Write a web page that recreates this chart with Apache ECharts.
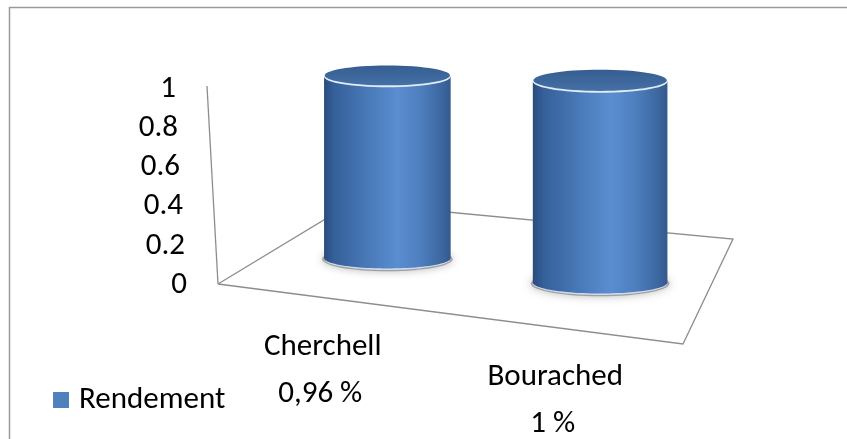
<!DOCTYPE html>
<html>
<head>
<meta charset="utf-8">
<style>
  html, body { margin: 0; padding: 0; background: #ffffff; overflow: hidden; }
  #chart { width: 847px; height: 439px; }
</style>
<script src="https://cdn.jsdelivr.net/npm/echarts@6/dist/echarts.min.js"></script>
</head>
<body>
<div id="chart"></div>
<script>
// ---- data ----
const categories = ['Cherchell', 'Bourached'];
const rendement = [0.96, 1];
const valueTicks = [0, 0.2, 0.4, 0.6, 0.8, 1];
const seriesName = 'Rendement';

// ---- layout / style ----
const FONT = 'Carlito, Calibri, Lato, "Open Sans", sans-serif';
const FONT_SIZE = 31;
const BLUE = '#4f81bd';
const LINE = '#8d8d8d';

// plot area of the value axis (front-left wall edge)
const GRID = { left: 218, top: 89, width: 465, height: 196 };

// floor quadrilateral in screen space
const FLOOR = {
  fl: [218, 284],
  fr: [683, 344],
  br: [733, 239],
  bl: [352, 203]
};
const WALL_TOP = [207, 86];
const DEPTH = 0.47;            // where the cylinders stand between front (0) and back (1)
const PERSP = [0.934, 0.122];  // size factor across the floor, left to right
const RADIUS = 0.2823;         // cylinder radius as a share of the category band
const TILT = 0.168;            // ellipse flattening
const CAT_LABEL_OFF = [-11.5, 48];
const VAL_LABEL_OFF = [-14, 95];

function lerp(a, b, t) { return [a[0] + (b[0] - a[0]) * t, a[1] + (b[1] - a[1]) * t]; }
function floorPoint(s, d) {
  const front = lerp(FLOOR.fl, FLOOR.fr, s);
  const back = lerp(FLOOR.bl, FLOOR.br, s);
  return lerp(front, back, d);
}
function ellipsePts(cx, cy, rx, ry, a0, a1, n) {
  const pts = [];
  for (let k = 0; k <= n; k++) {
    const a = a0 + (a1 - a0) * k / n;
    pts.push([cx + rx * Math.cos(a), cy + ry * Math.sin(a)]);
  }
  return pts;
}
function pctLabel(v) { return String(v).replace('.', ',') + ' %'; }

const bodyGradient = () => new echarts.graphic.LinearGradient(0, 0, 1, 0, [
  { offset: 0, color: '#2a4c7d' },
  { offset: 0.08, color: '#35609a' },
  { offset: 0.3, color: '#4675b3' },
  { offset: 0.58, color: '#5a8ed1' },
  { offset: 0.75, color: '#4f80c0' },
  { offset: 0.92, color: '#3d69a2' },
  { offset: 1, color: '#34598c' }
]);
const topGradient = () => new echarts.graphic.LinearGradient(0, 0, 0, 1, [
  { offset: 0, color: '#355d90' },
  { offset: 1, color: '#4571a7' }
]);

function renderCylinder(params, api) {
  const idx = api.value(0);
  const val = api.value(1);
  const p0 = api.coord([idx, 0]);
  const p1 = api.coord([idx, val]);
  const band = api.size([1, 0])[0];
  const cs = params.coordSys;
  const s = (p0[0] - cs.x) / cs.width;
  const f = PERSP[0] + PERSP[1] * s;

  const base = floorPoint(s, DEPTH);
  const h = (p0[1] - p1[1]) * f;
  const rx = band * RADIUS * f;
  const ry = rx * TILT;
  const cx = base[0], by = base[1], ty = base[1] - h;

  const front = floorPoint(s, 0);
  const children = [];

  // soft shadow under the base
  children.push({
    type: 'polygon',
    shape: { points: ellipsePts(cx, by + 1, rx + 2, ry + 1.5, 0, Math.PI * 2, 60) },
    style: { fill: 'rgba(90,90,90,0.45)', shadowBlur: 9, shadowColor: 'rgba(0,0,0,0.6)' }
  });
  // light rim at the bottom
  children.push({
    type: 'polygon',
    shape: { points: ellipsePts(cx, by + 0.8, rx, ry + 0.4, 0, Math.PI * 2, 60) },
    style: { fill: '#cfdcee' }
  });
  // body: side walls plus the lower half of the base ellipse
  children.push({
    type: 'polygon',
    shape: { points: [[cx - rx, ty]].concat(
      ellipsePts(cx, by, rx, ry - 0.3, Math.PI, 0, 48)
    ).concat([[cx + rx, ty]]) },
    style: { fill: bodyGradient() }
  });
  // light rim around the top face
  children.push({
    type: 'polygon',
    shape: { points: ellipsePts(cx, ty, rx, ry, 0, Math.PI * 2, 60) },
    style: { fill: '#e2ebf6' }
  });
  // top face
  children.push({
    type: 'polygon',
    shape: { points: ellipsePts(cx, ty - 1.2, rx - 0.8, ry - 0.7, 0, Math.PI * 2, 60) },
    style: { fill: topGradient() }
  });
  // category and value labels along the front edge
  children.push({
    type: 'text',
    style: {
      text: categories[idx],
      x: front[0] + CAT_LABEL_OFF[0], y: front[1] + CAT_LABEL_OFF[1],
      align: 'center', verticalAlign: 'middle',
      fill: '#000', fontSize: FONT_SIZE, fontFamily: FONT
    }
  });
  children.push({
    type: 'text',
    style: {
      text: pctLabel(val),
      x: front[0] + VAL_LABEL_OFF[0], y: front[1] + VAL_LABEL_OFF[1],
      align: 'center', verticalAlign: 'middle',
      fill: '#000', fontSize: FONT_SIZE, fontFamily: FONT
    }
  });
  return { type: 'group', children };
}

// tick labels follow the slanted wall edge: higher values sit further left
const WALL_SLANT = FLOOR.fl[0] - WALL_TOP[0];
const tickRich = {};
valueTicks.forEach((t, i) => {
  tickRich['t' + i] = {
    fontSize: FONT_SIZE, fontFamily: FONT, color: '#000',
    padding: [0, Math.round(WALL_SLANT * t), 0, 0]
  };
});

const chart = echarts.init(document.getElementById('chart'), null, { renderer: 'canvas' });
chart.setOption({
  animation: false,
  backgroundColor: '#ffffff',
  color: [BLUE],
  grid: { left: GRID.left, top: GRID.top, width: GRID.width, height: GRID.height, containLabel: false },
  legend: {
    data: [{ name: seriesName, icon: 'rect' }],
    left: 53, top: 381, padding: 0,
    itemWidth: 16, itemHeight: 16,
    textStyle: { fontSize: FONT_SIZE, fontFamily: FONT, color: '#000', lineHeight: 38, padding: [0, 0, 0, 5] }
  },
  xAxis: { type: 'category', data: categories, show: false },
  yAxis: {
    type: 'value',
    min: valueTicks[0],
    max: valueTicks[valueTicks.length - 1],
    interval: valueTicks[1] - valueTicks[0],
    axisLine: { show: false }, axisTick: { show: false }, splitLine: { show: false },
    axisLabel: {
      margin: 31,
      formatter: function (v) {
        const i = valueTicks.findIndex(t => Math.abs(t - v) < 1e-9);
        return '{t' + i + '|' + String(valueTicks[i]) + '}';
      },
      rich: tickRich
    }
  },
  graphic: [
    {
      // chart-area border: only the top and left edges fall inside the view
      type: 'polyline', z: -1,
      shape: { points: [[9.5, 600], [9.5, 7.5], [1200, 7.5]] },
      style: { fill: 'none', stroke: '#9a9a9a', lineWidth: 1.5 }
    },
    {
      type: 'polyline', z: 0,
      shape: { points: [FLOOR.fl, FLOOR.fr, FLOOR.br, FLOOR.bl, FLOOR.fl] },
      style: { fill: 'none', stroke: LINE, lineWidth: 1.3 }
    },
    {
      type: 'line', z: 0,
      shape: { x1: FLOOR.fl[0], y1: FLOOR.fl[1], x2: WALL_TOP[0], y2: WALL_TOP[1] },
      style: { stroke: LINE, lineWidth: 1.3 }
    }
  ],
  series: [{
    type: 'custom',
    name: seriesName,
    itemStyle: { color: BLUE },
    clip: false,
    data: categories.map((c, i) => [i, rendement[i]]),
    renderItem: renderCylinder
  }]
});
</script>
</body>
</html>
